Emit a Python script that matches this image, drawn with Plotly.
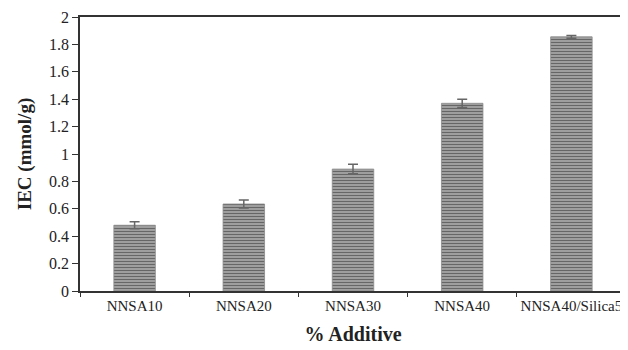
import plotly.graph_objects as go

categories = ["NNSA10", "NNSA20", "NNSA30", "NNSA40", "NNSA40/Silica5"]
iec_values = [0.48, 0.635, 0.89, 1.37, 1.855]
iec_errors = [0.025, 0.03, 0.035, 0.03, 0.01]
y_ticks = [0, 0.2, 0.4, 0.6, 0.8, 1, 1.2, 1.4, 1.6, 1.8, 2]

fig = go.Figure()
fig.add_trace(go.Bar(
    x=categories,
    y=iec_values,
    width=0.38,
    marker=dict(
        color="#9a9a9a",
        line=dict(color="#8a8a8a", width=0.8),
        pattern=dict(shape="-", size=3, solidity=0.5, fgcolor="#666666", bgcolor="#b0b0b0", fillmode="replace"),
    ),
    error_y=dict(type="data", array=iec_errors, visible=True, color="#666666", thickness=1.5, width=5),
))

font_family = "Liberation Serif, Times New Roman, serif"
# the page body adds an 8px offset, so the figure is placed to compensate
fig.update_layout(
    width=628, height=350,
    margin=dict(l=72, r=10, t=9, b=67),
    paper_bgcolor="white", plot_bgcolor="white",
    showlegend=False,
    font=dict(family=font_family, size=16, color="#222222"),
    xaxis=dict(
        automargin=False, tickangle=0,
        showline=True, linecolor="#333333", linewidth=1.5, mirror=True,
        ticks="outside", tickson="boundaries", ticklen=4, tickcolor="#333333",
        tickfont=dict(family=font_family, size=15, color="#222222"),
        title=dict(text="<b>% Additive</b>", font=dict(family=font_family, size=20, color="#222222"), standoff=14),
        showgrid=False,
    ),
    yaxis=dict(
        automargin=False,
        range=[0, 2], tickvals=y_ticks, ticktext=[f"{v:g}" for v in y_ticks],
        showline=True, linecolor="#333333", linewidth=1.5,
        ticks="outside", ticklen=6, tickcolor="#333333",
        tickfont=dict(family=font_family, size=16, color="#222222"),
        title=dict(text="<b>IEC (mmol/g)</b>", font=dict(family=font_family, size=19, color="#222222"), standoff=12),
        showgrid=False, zeroline=False,
    ),
)

fig.write_html("out.html")
